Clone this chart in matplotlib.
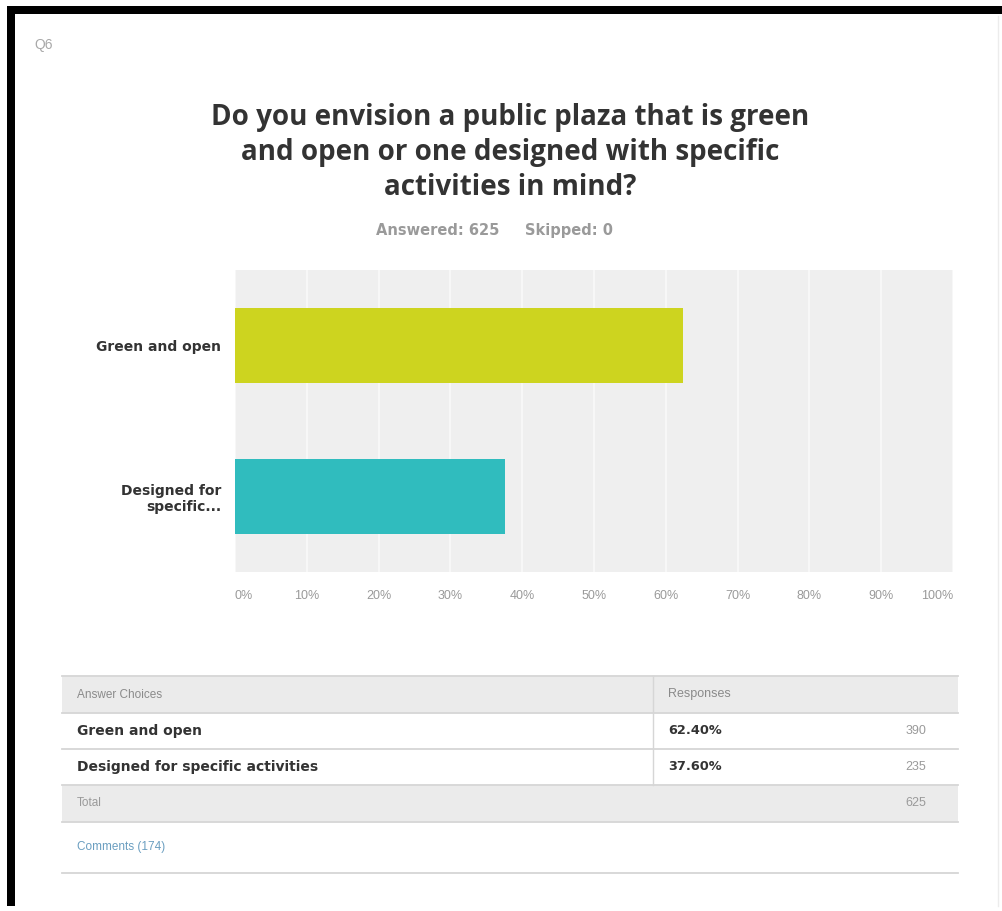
import matplotlib.pyplot as plt
from matplotlib.patches import Rectangle

# survey question data
title_lines = ["Do you envision a public plaza that is green",
               "and open or one designed with specific",
               "activities in mind?"]
categories = ["Green and open", "Designed for\nspecific..."]
full_names = ["Green and open", "Designed for specific activities"]
percents = [62.40, 37.60]
counts = [390, 235]
answered = 625
skipped = 0
n_comments = 174
bar_colors = ["#cdd41f", "#30bcbe"]
xticks = list(range(0, 101, 10))

W, H = 1003, 911
fig = plt.figure(figsize=(W / 100, H / 100), dpi=100)

# full-figure layer in pixel units for the frame, title and table
bg = fig.add_axes([0, 0, 1, 1])
bg.set_xlim(0, W)
bg.set_ylim(H, 0)
bg.axis("off")

bg.add_patch(Rectangle((7, 6), W, 900, facecolor="black", edgecolor="none"))
bg.add_patch(Rectangle((15, 14), W, 892, facecolor="white", edgecolor="none"))
bg.plot([998, 998], [16, 906], color="#ececec", lw=1)

bg.text(34, 45, "Q6", fontsize=10, color="#a8a8a8", family="Liberation Sans",
        va="center", ha="left")
for k, line in enumerate(title_lines):
    bg.text(510, 125 + 35 * k, line, fontsize=20, fontweight="bold",
            color="#333333", family="Open Sans", ha="center", va="baseline")
bg.text(495, 230, f"Answered: {answered}     Skipped: {skipped}", fontsize=10.5,
        fontweight="bold", color="#9a9a9a", family="DejaVu Sans",
        ha="center", va="center")

# response table
tl, tr, col = 62, 958, 653
rows = [676, 713, 749, 785, 822, 873]
line_c = "#d6d6d6"
bg.add_patch(Rectangle((tl, rows[0]), tr - tl, rows[1] - rows[0],
                       facecolor="#ebebeb", edgecolor="none"))
bg.add_patch(Rectangle((tl, rows[3]), tr - tl, rows[4] - rows[3],
                       facecolor="#ebebeb", edgecolor="none"))
for y in rows:
    bg.plot([tl, tr], [y, y], color=line_c, lw=1.3)
bg.plot([col, col], [rows[0], rows[3]], color=line_c, lw=1)

tx, px, cx = 77, 668, 926
mid = lambda i: (rows[i] + rows[i + 1]) / 2
bg.text(tx, mid(0), "Answer Choices", fontsize=8.5, color="#8a8a8a",
        family="Liberation Sans", va="center")
bg.text(px, mid(0), "Responses", fontsize=9, color="#8a8a8a",
        family="Liberation Sans", va="center")
for i, (name, pct, cnt) in enumerate(zip(full_names, percents, counts)):
    bg.text(tx, mid(i + 1), name, fontsize=10, fontweight="bold",
            color="#333333", family="DejaVu Sans", va="center")
    bg.text(px, mid(i + 1), f"{pct:.2f}%", fontsize=9.3, fontweight="bold",
            color="#333333", family="DejaVu Sans", va="center")
    bg.text(cx, mid(i + 1), str(cnt), fontsize=9, color="#9a9a9a",
            family="Liberation Sans", va="center", ha="right")
bg.text(tx, mid(3), "Total", fontsize=8.5, color="#9a9a9a",
        family="Liberation Sans", va="center")
bg.text(cx, mid(3), str(sum(counts)), fontsize=9, color="#9a9a9a",
        family="Liberation Sans", va="center", ha="right")
bg.text(tx, 847, f"Comments ({n_comments})", fontsize=8.5, color="#6a9ec0",
        family="Liberation Sans", va="center")

# bar chart
ax = fig.add_axes([235 / W, 1 - 572 / H, 718 / W, 302 / H])
ax.set_facecolor("#efefef")
ypos = list(range(len(categories)))
ax.barh(ypos, percents, height=0.5, color=bar_colors, zorder=3)
ax.set_xlim(0, 100)
ax.set_ylim(1.5, -0.5)
ax.set_xticks(xticks)
ax.set_xticklabels([f"{t}%" for t in xticks], fontsize=9, color="#9a9a9a",
                   family="Liberation Sans")
labels = ax.get_xticklabels()
labels[0].set_ha("left")
labels[-1].set_ha("right")
ax.set_yticks(ypos)
ax.set_yticklabels(categories, fontsize=10, color="#333333",
                   family="DejaVu Sans", fontweight="bold")
ax.tick_params(axis="both", length=0)
ax.tick_params(axis="x", pad=13)
ax.tick_params(axis="y", pad=10)
ax.grid(axis="x", color="#f7f7f7", lw=1.5, zorder=1)
for s in ax.spines.values():
    s.set_visible(False)

fig.savefig("out.png", dpi=100)
